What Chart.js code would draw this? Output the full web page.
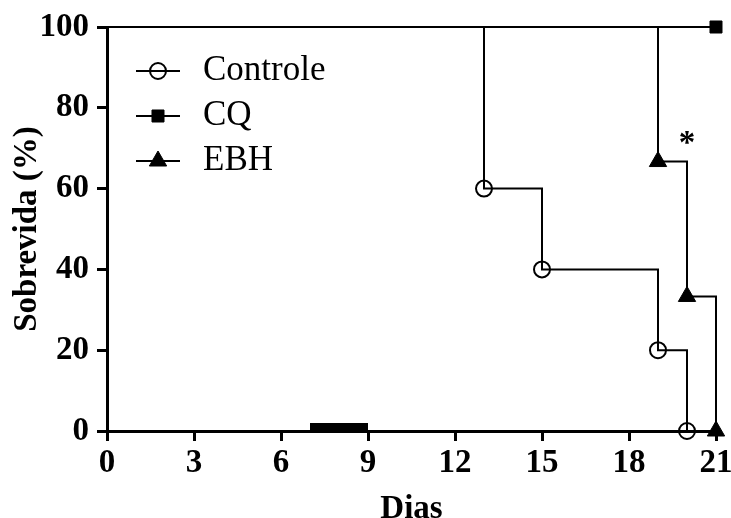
<!DOCTYPE html>
<html>
<head>
<meta charset="utf-8">
<script src="https://cdn.jsdelivr.net/npm/chart.js"></script>
<style>
  html, body { margin: 0; padding: 0; background: #fff; }
  canvas { display: block; }
</style>
</head>
<body>
<canvas id="survivalChart" width="731" height="518"></canvas>
<script>
// survival data (days, % alive)
var controleDays = [0, 13, 15, 19, 20];
var controleSurvival = [100, 60, 40, 20, 0];
var cqDays = [0, 21];
var cqSurvival = [100, 100];
var ebhDays = [0, 19, 20, 21];
var ebhSurvival = [100, 66.7, 33.3, 0];
var treatmentDays = [7, 9];
var xTicks = [0, 3, 6, 9, 12, 15, 18, 21];
var yTicks = [0, 20, 40, 60, 80, 100];
var seriesNames = ['Controle', 'CQ', 'EBH'];
var significance = { label: '*', day: 20, value: 71 };

var serif = '"Times New Roman", "Liberation Serif", serif';

function toPoints(xs, ys) {
  var pts = [];
  for (let i = 0; i < xs.length; i++) {
    pts.push({ x: xs[i], y: ys[i] });
  }
  return pts;
}

// no marker on the starting point of a curve
function markerAfterStart(r) {
  return function (c) { return c.dataIndex === 0 ? 0 : r; };
}

var insideLegend = {
  id: 'insideLegend',
  afterDatasetsDraw: function (chart) {
    var ctx = chart.ctx;
    var area = chart.chartArea;
    for (let i = 0; i < seriesNames.length; i++) {
      var ds = chart.data.datasets[i];
      var y = area.top + 44 + i * 45;
      var x0 = area.left + 29;
      ctx.save();
      ctx.strokeStyle = '#000';
      ctx.lineWidth = 2;
      ctx.beginPath();
      ctx.moveTo(x0, y);
      ctx.lineTo(x0 + 44, y);
      ctx.stroke();
      ctx.fillStyle = ds.pointBackgroundColor;
      ctx.lineWidth = ds.pointBorderWidth;
      Chart.helpers.drawPoint(ctx, {
        pointStyle: ds.pointStyle,
        radius: ds.legendRadius,
        borderWidth: ds.pointBorderWidth,
        rotation: 0
      }, x0 + 22, y);
      ctx.fillStyle = '#000';
      ctx.font = '35px ' + serif;
      ctx.textAlign = 'left';
      ctx.textBaseline = 'middle';
      ctx.fillText(seriesNames[i], area.left + 96, y);
      ctx.restore();
    }
  }
};

var starMark = {
  id: 'starMark',
  afterDatasetsDraw: function (chart) {
    var ctx = chart.ctx;
    ctx.save();
    ctx.fillStyle = '#000';
    ctx.font = 'bold 33px ' + serif;
    ctx.textAlign = 'center';
    ctx.textBaseline = 'middle';
    ctx.fillText(significance.label,
      chart.scales.x.getPixelForValue(significance.day),
      chart.scales.y.getPixelForValue(significance.value));
    ctx.restore();
  }
};

var ctx = document.getElementById('survivalChart');
var chart = new Chart(ctx, {
  type: 'line',
  data: {
    datasets: [{
      label: seriesNames[0],
      data: toPoints(controleDays, controleSurvival),
      stepped: true,
      borderColor: '#000',
      borderWidth: 2,
      pointStyle: 'circle',
      pointRadius: markerAfterStart(8),
      legendRadius: 8,
      pointBorderWidth: 2,
      pointBorderColor: '#000',
      pointBackgroundColor: 'rgba(0,0,0,0)',
      clip: false
    }, {
      label: seriesNames[1],
      data: toPoints(cqDays, cqSurvival),
      stepped: true,
      borderColor: '#000',
      borderWidth: 2,
      pointStyle: 'rect',
      pointRadius: markerAfterStart(8.5),
      legendRadius: 8.5,
      pointBorderWidth: 1,
      pointBorderColor: '#000',
      pointBackgroundColor: '#000',
      clip: false
    }, {
      label: seriesNames[2],
      data: toPoints(ebhDays, ebhSurvival),
      stepped: true,
      borderColor: '#000',
      borderWidth: 2,
      pointStyle: 'triangle',
      pointRadius: markerAfterStart(10),
      legendRadius: 10,
      pointBorderWidth: 1,
      pointBorderColor: '#000',
      pointBackgroundColor: '#000',
      clip: false
    }, {
      label: 'tratamento',
      data: toPoints(treatmentDays, [1, 1]),
      borderColor: '#000',
      borderWidth: 8,
      borderCapStyle: 'butt',
      pointRadius: 0,
      clip: false
    }]
  },
  options: {
    responsive: false,
    animation: false,
    layout: { padding: { top: 27, right: 15, left: 0, bottom: 0 } },
    plugins: {
      legend: { display: false },
      tooltip: { enabled: false }
    },
    scales: {
      x: {
        type: 'linear',
        min: 0,
        max: 21,
        afterBuildTicks: function (s) { s.ticks = xTicks.map(function (v) { return { value: v }; }); },
        afterFit: function (s) { s.height = 87; s.paddingLeft = 0; s.paddingRight = 0; },
        border: { display: true, color: '#000', width: 3 },
        grid: { display: true, drawOnChartArea: false, drawTicks: true, tickLength: 10, tickWidth: 3, tickColor: '#000' },
        ticks: { color: '#000', padding: 3, maxRotation: 0, font: { family: serif, size: 33, weight: 'bold' } },
        title: {
          display: true,
          text: 'Dias',
          color: '#000',
          padding: { top: 0, bottom: -11 },
          font: { family: serif, size: 33, weight: 'bold' }
        }
      },
      y: {
        min: 0,
        max: 100,
        afterBuildTicks: function (s) { s.ticks = yTicks.map(function (v) { return { value: v }; }); },
        afterFit: function (s) { s.width = 107; s.paddingTop = 0; s.paddingBottom = 0; },
        border: { display: true, color: '#000', width: 3 },
        grid: { display: true, drawOnChartArea: false, drawTicks: true, tickLength: 10, tickWidth: 3, tickColor: '#000' },
        ticks: { color: '#000', padding: 8, font: { family: serif, size: 33, weight: 'bold' } },
        title: {
          display: true,
          text: 'Sobrevida (%)',
          color: '#000',
          padding: { top: 8, bottom: 0 },
          font: { family: serif, size: 33, weight: 'bold' }
        }
      }
    }
  },
  plugins: [insideLegend, starMark]
});
</script>
</body>
</html>
